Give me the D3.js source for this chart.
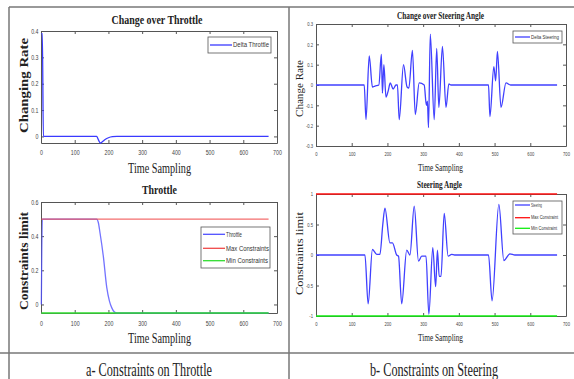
<!DOCTYPE html>
<html>
<head>
<meta charset="utf-8">
<script src="https://cdn.jsdelivr.net/npm/d3@7/dist/d3.min.js"></script>
<style>
  body { margin: 0; background: #fff; }
  svg { display: block; }
</style>
</head>
<body>
<svg id="chart" width="574" height="379"></svg>
<script>
// values: [time sample, value]
const timeTicks = [0, 100, 200, 300, 400, 500, 600, 700];

const deltaThrottle = [[1, 0.39], [4, 0.39], [7, 0], [165, 0], [170, -0.012], [176, -0.025],
  [182, -0.02], [190, -0.012], [200, -0.005], [212, -0.001], [225, 0], [675, 0]];
const throttle = [[1, 0], [4, 0.5], [165, 0.5], [170, 0.48], [175, 0.42], [185, 0.28],
  [195, 0.1], [203, 0.02], [210, -0.02], [218, -0.045], [225, -0.05], [675, -0.05]];
const throttleMax = [[1, 0.5], [675, 0.5]];
const throttleMin = [[1, -0.05], [675, -0.05]];

const deltaSteering = [[0, 0], [135, 0], [140, -0.17], [149, 0.143], [158, -0.01], [165, -0.005],
  [176, 0], [183, 0.15], [186, -0.04], [190, 0.1], [196, -0.06], [202, -0.03], [208, 0.01],
  [216, -0.02], [224, 0], [228, 0], [233, -0.17], [245, 0.1], [255, -0.01], [260, -0.015],
  [270, 0.17], [278, -0.145], [289, 0.01], [303, 0], [309, -0.1], [312, -0.08], [315, -0.21],
  [320, 0.25], [331, -0.17], [338, 0.18], [344, -0.11], [354, 0.19], [364, -0.11],
  [372, 0.005], [378, 0], [483, 0], [487, -0.155], [498, 0.09], [503, 0.02], [508, 0.165],
  [518, -0.11], [532, 0.01], [545, 0], [675, 0]];
const steering = [[0, 0], [137, 0], [146, -0.8], [158, 0.09], [170, 0.01], [179, 0.01],
  [187, 0.5], [193, 0.77], [207, 0.2], [214, 0.2], [226, 0], [231, -0.02], [240, -0.8],
  [254, 0.08], [263, 0], [275, 0.8], [287, -0.1], [296, -0.02], [308, -0.02], [316, -0.97],
  [327, 0.12], [335, -0.52], [340, 0.08], [345, -0.35], [350, -0.35], [359, 0.68],
  [370, -0.02], [380, 0.01], [388, 0], [483, 0], [493, -0.75], [512, 0.83], [526, -0.09],
  [543, 0.02], [557, 0], [675, 0]];
const steeringMax = [[0, 1], [675, 1]];
const steeringMin = [[0, -1], [675, -1]];

const svg = d3.select('#chart');
const serif = '"Liberation Serif", "Times New Roman", serif';
const sans = '"Liberation Sans Narrow", "Liberation Sans", Arial, sans-serif';

function label(x, y, txt, size, weight, len, rotate, family) {
  const t = svg.append('text')
    .attr('text-anchor', 'middle')
    .attr('transform', `translate(${x},${y})` + (rotate ? 'rotate(-90)' : ''))
    .style('font-family', family || serif)
    .style('font-size', size + 'px')
    .style('font-weight', weight)
    .style('fill', '#222')
    .text(txt);
  if (len) t.attr('textLength', len).attr('lengthAdjust', 'spacingAndGlyphs');
  return t;
}

function panel(p) {
  const x = d3.scaleLinear().domain([0, 700]).range([p.x0, p.x1]);
  const y = d3.scaleLinear().domain(p.yDomain).range([p.y1, p.y0]);
  const g = svg.append('g');
  const fmt = (d) => String(+d.toFixed(2));

  const styleAxis = (sel) => {
    sel.select('.domain').attr('stroke', '#555');
    sel.selectAll('.tick line').attr('stroke', '#555');
    sel.selectAll('text')
      .style('font-family', sans)
      .style('font-size', p.tickFont + 'px')
      .style('fill', '#444')
      .each(function () {
        // the original tick labels are squeezed sideways
        const w = this.getComputedTextLength();
        if (w > 0) d3.select(this).attr('textLength', w * 0.75).attr('lengthAdjust', 'spacingAndGlyphs');
      });
  };

  g.append('g')
    .attr('transform', `translate(0,${p.y1})`)
    .call(d3.axisBottom(x).tickValues(timeTicks).tickSize(-3).tickSizeOuter(0).tickPadding(p.xPad).tickFormat(fmt))
    .call(styleAxis);
  g.append('g')
    .attr('transform', `translate(0,${p.y0})`)
    .call(d3.axisTop(x).tickValues(timeTicks).tickSize(-3).tickSizeOuter(0).tickFormat(''))
    .call(styleAxis);
  g.append('g')
    .attr('transform', `translate(${p.x0},0)`)
    .call(d3.axisLeft(y).tickValues(p.yTicks).tickSize(-3).tickSizeOuter(0).tickPadding(p.yPad).tickFormat(fmt))
    .call(styleAxis);
  g.append('g')
    .attr('transform', `translate(${p.x1},0)`)
    .call(d3.axisRight(y).tickValues(p.yTicks).tickSize(-3).tickSizeOuter(0).tickFormat(''))
    .call(styleAxis);

  const line = d3.line()
    .x((d) => x(d[0]))
    .y((d) => y(d[1]))
    .curve(d3.curveMonotoneX);

  for (const s of p.series) {
    g.append('path')
      .datum(s.data)
      .attr('fill', 'none')
      .attr('stroke', s.color)
      .attr('stroke-width', s.width || 1.3)
      .attr('stroke-opacity', s.opacity || 1)
      .attr('d', line);
  }

  // legend
  const L = p.legend;
  g.append('rect')
    .attr('x', L.x).attr('y', L.y).attr('width', L.w).attr('height', L.h)
    .attr('fill', '#fff').attr('stroke', '#555').attr('stroke-width', 0.8);
  p.series.forEach((s, i) => {
    const ry = L.rows[i];
    g.append('line')
      .attr('x1', L.x + 2).attr('x2', L.x + L.lineLen)
      .attr('y1', ry).attr('y2', ry)
      .attr('stroke', s.color).attr('stroke-width', 1.3);
    const t = g.append('text')
      .attr('x', L.x + L.lineLen + 1).attr('y', ry + L.font * 0.35)
      .style('font-family', sans).style('font-size', L.font + 'px').style('fill', '#333')
      .text(s.name);
    if (s.len) t.attr('textLength', s.len).attr('lengthAdjust', 'spacingAndGlyphs');
  });
}

// frame of the figure
const frame = [
  [9, 7, 574, 7], [9, 7, 9, 379], [289, 7, 289, 379], [0, 353, 574, 353]
];
svg.selectAll('.frame').data(frame).enter().append('line')
  .attr('class', 'frame')
  .attr('x1', (d) => d[0]).attr('y1', (d) => d[1])
  .attr('x2', (d) => d[2]).attr('y2', (d) => d[3])
  .attr('stroke', '#777').attr('stroke-width', 1.5);

panel({
  x0: 41, x1: 277, y0: 31, y1: 143, yDomain: [-0.025, 0.4], yTicks: [0, 0.1, 0.2, 0.3, 0.4],
  tickFont: 7, xPad: 7, yPad: 2.5,
  series: [{ name: 'Delta Throttle', data: deltaThrottle, color: '#3a3aff', len: 36 }],
  legend: { x: 208, y: 37, w: 63, h: 16, rows: [45], lineLen: 24, font: 6.5 }
});
panel({
  x0: 41, x1: 277, y0: 202, y1: 313, yDomain: [-0.05, 0.6], yTicks: [0, 0.2, 0.4, 0.6],
  tickFont: 7, xPad: 8.5, yPad: 2.5,
  series: [
    { name: 'Throttle', data: throttle, color: '#5050ff', len: 16, opacity: 0.8 },
    { name: 'Max Constraints', data: throttleMax, color: '#f04848', len: 43, opacity: 0.8 },
    { name: 'Min Constraints', data: throttleMin, color: '#30dd30', len: 42, width: 1.6 }
  ],
  legend: { x: 201, y: 227, w: 69, h: 41, rows: [234.3, 248.3, 260.7], lineLen: 24, font: 6.5 }
});
panel({
  x0: 316, x1: 566, y0: 24, y1: 146, yDomain: [-0.3, 0.3], yTicks: [-0.3, -0.2, -0.1, 0, 0.1, 0.2, 0.3],
  tickFont: 5.5, xPad: 6.5, yPad: 3,
  series: [{ name: 'Delta Steering', data: deltaSteering, color: '#4040ff', len: 28 }],
  legend: { x: 513, y: 31, w: 49, h: 12, rows: [37], lineLen: 17, font: 4.5 }
});
panel({
  x0: 316, x1: 566, y0: 194, y1: 316, yDomain: [-1, 1], yTicks: [-1, -0.5, 0, 0.5, 1],
  tickFont: 5.5, xPad: 6.5, yPad: 3,
  series: [
    { name: 'Steering', data: steering, color: '#4040ff', len: 11 },
    { name: 'Max Constraint', data: steeringMax, color: '#ff1010', len: 27, width: 1.6 },
    { name: 'Min Constraint', data: steeringMin, color: '#10ee10', len: 26, width: 1.6 }
  ],
  legend: { x: 513, y: 201, w: 49, h: 33, rows: [205, 217.7, 228.3], lineLen: 17, font: 4.5 }
});

// titles and axis labels
label(157, 23.5, 'Change over Throttle', 13, 'bold', 91);
label(159.5, 172.5, 'Time Sampling', 14.5, 'normal', 63);
label(159.5, 194, 'Throttle', 13, 'bold', 35);
label(159.5, 343, 'Time Sampling', 14.5, 'normal', 63);
label(28, 85.5, 'Changing Rate', 13, 'bold', 95, true);
label(28, 261, 'Constraints limit', 13, 'bold', 98, true);

label(440.5, 19, 'Change over Steering Angle', 10, 'bold', 87);
label(440.5, 170.5, 'Time Sampling', 11, 'normal', 45);
label(439.5, 187.5, 'Steering Angle', 10, 'bold', 45);
label(440.5, 341, 'Time Sampling', 11, 'normal', 45);
label(303, 88.5, 'Change Rate', 9.5, 'normal', 57, true);
label(303, 253.5, 'Constraints limit', 9.5, 'normal', 83, true);

label(149, 376, 'a- Constraints on Throttle', 19, 'normal', 126);
label(434, 376, 'b- Constraints on Steering', 19, 'normal', 128);
</script>
</body>
</html>
